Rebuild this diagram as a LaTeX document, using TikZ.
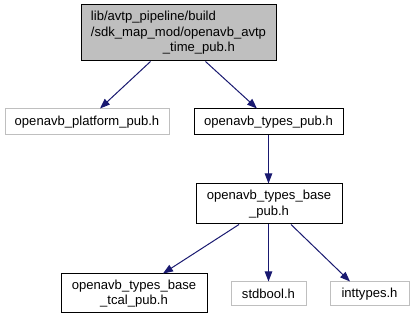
\documentclass[tikz,border=0pt]{standalone}
\usepackage{fontspec}
\setmainfont{Liberation Sans}
\usetikzlibrary{arrows.meta}
\definecolor{edgeblue}{HTML}{191970}
\definecolor{lightgrey}{HTML}{BFBFBF}
\begin{document}
\begin{tikzpicture}[x=0.75pt,y=-0.75pt,
  every node/.style={font=\fontsize{9.8}{11.6}\selectfont, inner sep=0pt, align=center},
  filebox/.style={draw=black, line width=0.75pt, fill=white},
  extbox/.style={draw=lightgrey, line width=0.75pt, fill=white},
  rootbox/.style={draw=black, line width=0.75pt, fill=lightgrey},
  dep/.style={draw=edgeblue, line width=0.75pt,
    -{Triangle[length=7.5pt,width=5.6pt]}, edgeblue}]
\useasboundingbox (0,0) rectangle (415,320);

% header file being documented
\node[rootbox, minimum width=195*0.75pt, minimum height=56*0.75pt, align=left] (root) at (178.5,33)
  {lib/avtp\_pipeline/build\\/sdk\_map\_mod/openavb\_avtp\\\hspace*{54pt}\_time\_pub.h};

% direct includes
\node[extbox, minimum width=164*0.75pt, minimum height=26*0.75pt] (platform) at (87,122)
  {openavb\_platform\_pub.h};
\node[filebox, minimum width=149*0.75pt, minimum height=26*0.75pt] (types) at (268.5,122)
  {openavb\_types\_pub.h};

% second level
\node[filebox, minimum width=146*0.75pt, minimum height=40*0.75pt] (base) at (269,204)
  {openavb\_types\_base\\\_pub.h};

% third level
\node[filebox, minimum width=146*0.75pt, minimum height=39*0.75pt] (tcal) at (134,293.5)
  {openavb\_types\_base\\\_tcal\_pub.h};
\node[extbox, minimum width=75*0.75pt, minimum height=24*0.75pt] (stdbool) at (268.5,294)
  {stdbool.h};
\node[extbox, minimum width=79*0.75pt, minimum height=24*0.75pt] (inttypes) at (369.5,294)
  {inttypes.h};

% include edges
\draw[dep] ([xshift=-28*0.75pt]root.south) -- ([xshift=13*0.75pt]platform.north);
\draw[dep] ([xshift=27*0.75pt]root.south) -- ([xshift=-11.5*0.75pt]types.north);
\draw[dep] (types.south) -- (types.south |- base.north);
\draw[dep] ([xshift=-30*0.75pt]base.south) -- ([xshift=29*0.75pt]tcal.north);
\draw[dep] (base.south -| stdbool.north) -- (stdbool.north);
\draw[dep] ([xshift=22*0.75pt]base.south) -- ([xshift=-19.5*0.75pt]inttypes.north);
\end{tikzpicture}
\end{document}
